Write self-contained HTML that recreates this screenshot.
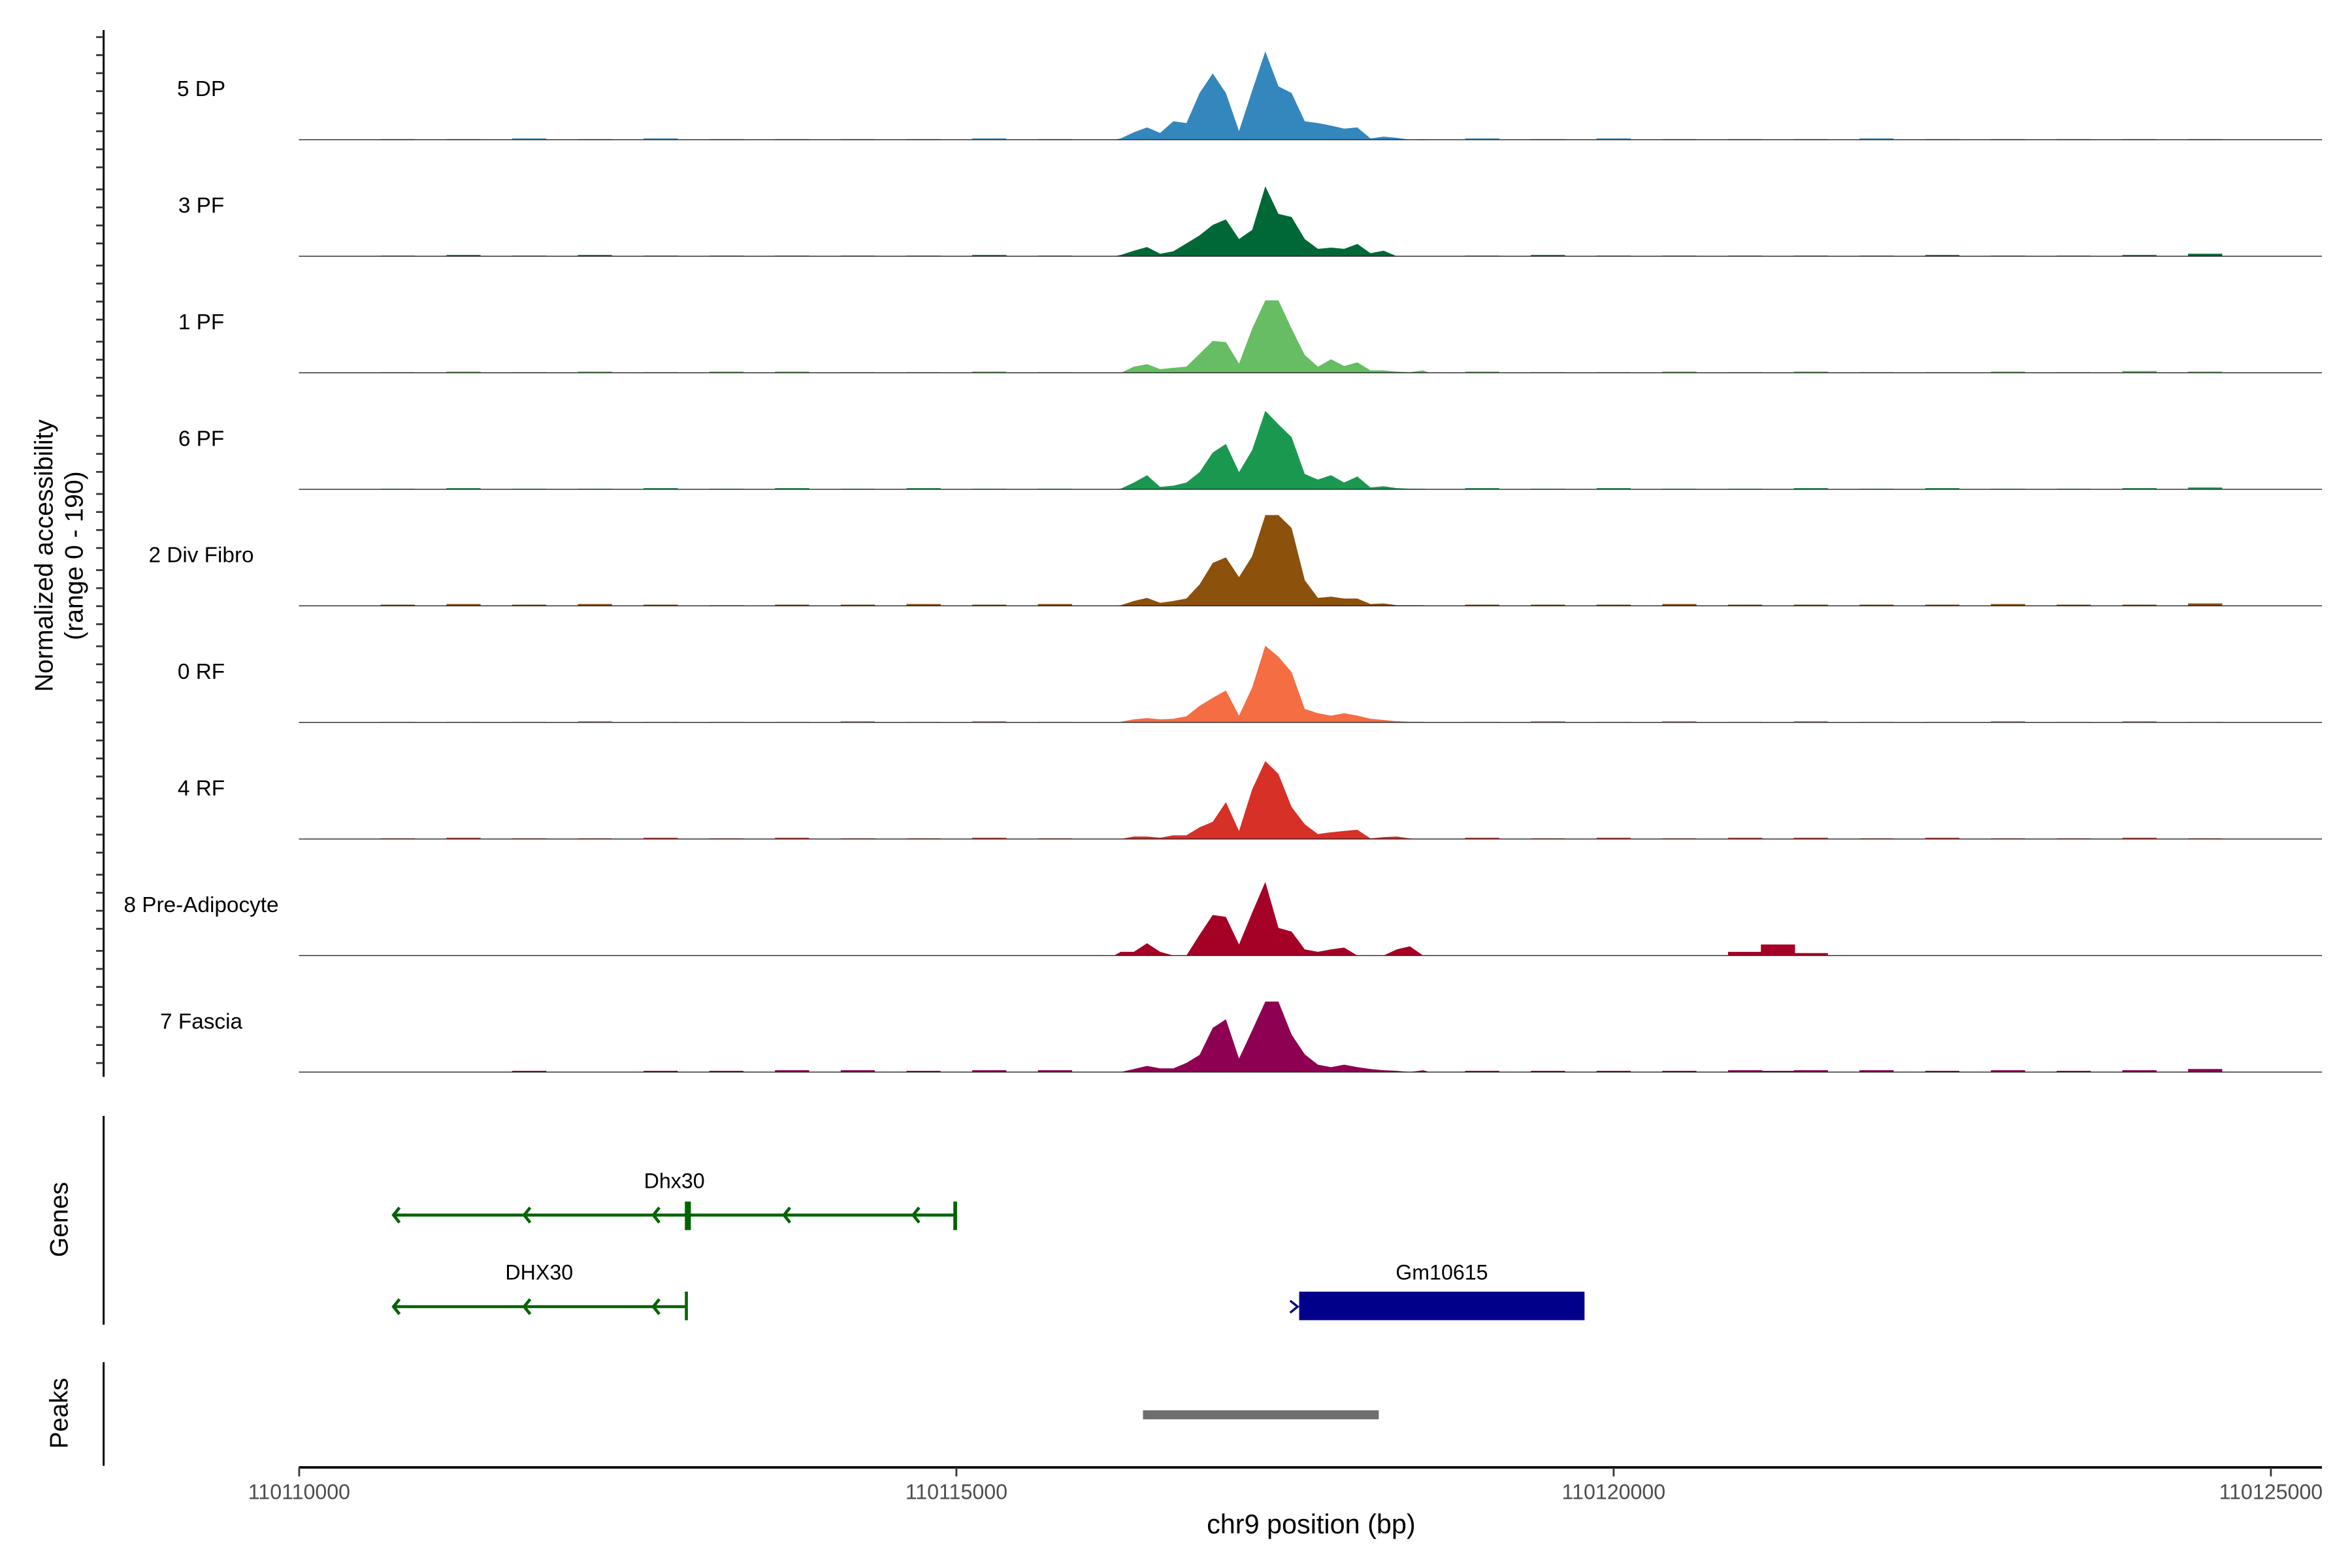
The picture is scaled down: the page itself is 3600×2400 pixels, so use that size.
<!DOCTYPE html>
<html><head><meta charset="utf-8"><style>
html,body{margin:0;padding:0;background:#fff;}
svg{display:block;font-family:"Liberation Sans",Arial,sans-serif;}
</style></head><body>
<svg id="chart" width="3600" height="2400" viewBox="0 0 1566 1044" preserveAspectRatio="none" xmlns="http://www.w3.org/2000/svg">
<g id="tracks"></g>
<g id="yaxis">
<line x1="69" y1="20" x2="69" y2="717" stroke="#000" stroke-width="1.3"/>
</g>
<text transform="translate(35,370) rotate(-90)" text-anchor="middle" font-size="17">Normalized accessibility</text>
<text transform="translate(55,370) rotate(-90)" text-anchor="middle" font-size="17">(range 0 - 190)</text>

<g>
<line x1="69" y1="743" x2="69" y2="882" stroke="#000" stroke-width="1.3"/>
<text transform="translate(45,812) rotate(-90)" text-anchor="middle" font-size="17">Genes</text>
<g stroke="#006400" fill="none" stroke-width="2">
<line x1="262" y1="809" x2="636" y2="809"/>
<line x1="458" y1="800" x2="458" y2="819" stroke-width="4"/>
<line x1="636" y1="800" x2="636" y2="819" stroke-width="2.5"/>
<path d="M266 804 L262 809 L266 814 M353 804 L349 809 L353 814 M439 804 L435 809 L439 814 M526 804 L522 809 L526 814 M612 804 L608 809 L612 814"/>
</g>
<text x="449" y="791" text-anchor="middle" font-size="14">Dhx30</text>
<g stroke="#006400" fill="none" stroke-width="2">
<line x1="262" y1="870" x2="457" y2="870"/>
<line x1="457" y1="860" x2="457" y2="879" stroke-width="2"/>
<path d="M266 865 L262 870 L266 875 M353 865 L349 870 L353 875 M439 865 L435 870 L439 875"/>
</g>
<text x="359" y="852" text-anchor="middle" font-size="14">DHX30</text>
<g>
<rect x="865" y="860" width="190" height="19" fill="#00008b"/>
<path d="M859 866 L864 870 L859 874" stroke="#00008b" stroke-width="1.5" fill="none"/>
</g>
<text x="960" y="852" text-anchor="middle" font-size="14">Gm10615</text>
</g>

<g>
<line x1="69" y1="907" x2="69" y2="976" stroke="#000" stroke-width="1.3"/>
<text transform="translate(45,941) rotate(-90)" text-anchor="middle" font-size="17">Peaks</text>
<rect x="761" y="939" width="157" height="6" fill="#6e6e6e"/>
</g>

<g id="xaxis">
<line x1="199" y1="977" x2="1546" y2="977" stroke="#000" stroke-width="1.6"/>
</g>
<text x="873" y="1021" text-anchor="middle" font-size="18">chr9 position (bp)</text>
</svg>
<script>
const trackNames = ["5 DP","3 PF","1 PF","6 PF","2 Div Fibro","0 RF","4 RF","8 Pre-Adipocyte","7 Fascia"];
const trackColors = ["#3487bd","#006837","#66bd63","#1a9850","#8c510a","#f46d43","#d73027","#a50026","#8e0152"];
const peakPos = [116250,116350,116450,116550,116650,116750,116850,116950,117050,117150,117250,117350,117450,117550,117650,117750,117850,117950,118050,118150,118250,118350,118450,118550];
const vals5DP = [2,12,20,11,30,27,76,108,76,14,80,144,87,76,30,27,23,18,20,2,5,3,0,1];
const vals3PF = [2,9,15,4,8,21,34,51,60,28,43,114,69,64,28,12,14,12,20,5,9,0,0,0];
const vals1PF = [0,10,14,6,8,10,31,52,50,15,72,118,118,72,29,10,22,11,17,4,4,2,1,4];
const vals6PF = [1,11,23,4,6,11,28,60,74,28,64,128,106,85,25,16,23,11,21,3,5,2,1,1];
const vals2Div = [1,8,13,5,8,12,35,70,79,47,81,148,148,127,42,13,15,12,12,3,4,1,1,1];
const vals0RF = [1,5,7,5,6,10,27,40,52,11,57,125,107,82,22,15,11,15,11,6,4,2,1,1];
const vals4RF = [0,4,4,2,6,6,19,28,60,13,81,127,106,52,24,8,11,13,15,1,3,4,1,0];
const vals8PA = [6,6,20,6,0,0,34,66,63,18,70,120,45,39,10,6,10,13,0,0,0,10,15,0];
const vals7Fas = [0,5,10,6,6,15,28,72,86,22,68,115,115,61,29,12,8,12,8,5,3,2,0,3];
const bgPos = [110750,111250,111750,112250,112750,113250,113750,114250,114750,115250,115750,119000,119500,120000,120500,121000,121250,121500,122000,122500,123000,123500,124000,124500];
const bg5DP = [1,1,2,1,2,1,1,1,1,2,1,2,1,2,1,1,0,1,2,1,1,1,1,1];
const bg3PF = [1,2,1,2,1,1,1,1,1,2,1,1,2,1,1,1,0,1,1,2,1,1,2,4];
const bg1PF = [1,2,1,2,1,2,2,1,1,2,1,2,1,1,2,1,0,2,1,1,2,1,3,2];
const bg6PF = [1,2,1,1,2,1,2,1,2,1,1,2,1,2,1,1,0,2,1,2,1,1,2,3];
const bg2Div = [2,3,2,3,2,1,2,2,3,2,3,2,2,2,3,2,0,2,2,2,3,2,2,4];
const bg0RF = [1,1,1,2,1,1,1,2,1,2,1,1,2,1,2,1,0,2,1,1,2,1,2,1];
const bg4RF = [1,2,1,1,2,1,2,1,1,2,1,2,1,2,1,2,0,2,1,2,1,1,2,1];
const bg8PA = [0,0,0,0,0,0,0,0,0,0,0,0,0,0,0,6,18,4,0,0,0,0,0,0];
const bg7Fas = [0,0,2,0,2,2,3,3,2,3,3,2,2,2,2,3,2,3,3,2,3,2,3,5];
const peakVals = [vals5DP,vals3PF,vals1PF,vals6PF,vals2Div,vals0RF,vals4RF,vals8PA,vals7Fas];
const bgVals = [bg5DP,bg3PF,bg1PF,bg6PF,bg2Div,bg0RF,bg4RF,bg8PA,bg7Fas];
const xTicks = [110110000,110115000,110120000,110125000];
const xTickLabels = ["110110000","110115000","110120000","110125000"];
const yMax = 190;

const NS = "http://www.w3.org/2000/svg";
const X0 = 110110000;
function xScale(bp){ const b = bp < 1e8 ? bp + 110000000 : bp; return 199.2 + (b - X0) * 1312.8 / 15000; }
const trackH = 77.6;
function baseY(i){ return 93 + i * trackH; }
function yScale(i, v){ return baseY(i) - v / yMax * trackH; }
function mk(tag, attrs){ const e = document.createElementNS(NS, tag); for (const k in attrs) e.setAttribute(k, attrs[k]); return e; }

const tracks = document.getElementById('tracks');
trackNames.forEach((name, i) => {
  const g = mk('g', {});
  
  
  const col = trackColors[i];
  bgVals[i].forEach((v, j) => {
    if (v <= 0) return;
    const x1 = xScale(bgPos[j] - 130), x2 = xScale(bgPos[j] + 130);
    const r = mk('rect', {x: x1, y: yScale(i, v), width: x2 - x1, height: baseY(i) - yScale(i, v), fill: col});
    
    
    g.appendChild(r);
  });
  const vals = peakVals[i];
  let d = 'M' + xScale(peakPos[0] - 50) + ' ' + baseY(i);
  vals.forEach((v, j) => { d += ' L' + xScale(peakPos[j]).toFixed(2) + ' ' + yScale(i, v).toFixed(2); });
  d += ' L' + xScale(peakPos[peakPos.length - 1] + 50) + ' ' + baseY(i) + ' Z';
  const p = mk('path', {d: d, fill: col});
  
  
  g.appendChild(p);
  const bl = mk('line', {x1: 199, x2: 1546, y1: baseY(i), y2: baseY(i), stroke: '#222', 'stroke-width': 0.6});
  
  
  g.appendChild(bl);
  const t = mk('text', {x: 134, y: baseY(i) - 29, 'text-anchor': 'middle', 'font-size': 14.5});
  
  
  t.textContent = name;
  g.appendChild(t);
  tracks.appendChild(g);
});

const yaxis = document.getElementById('yaxis');
for (let y0 = 24.7; y0 < 716; y0 += 50.7) {
  [0, 12, 24, 36].forEach(o => {
    const y = y0 + o; if (y > 716) return;
    const l = mk('line', {x1: 64, x2: 69, y1: y, y2: y, stroke: '#333', 'stroke-width': 1.2});
    
    
    yaxis.appendChild(l);
  });
}

const xaxis = document.getElementById('xaxis');
xTicks.forEach((v, k) => {
  const x = xScale(v);
  const l = mk('line', {x1: x, x2: x, y1: 977, y2: 983, stroke: '#333', 'stroke-width': 1.2});
  
  
  xaxis.appendChild(l);
  const t = mk('text', {x: x, y: 998, 'text-anchor': 'middle', 'font-size': 14, fill: '#4d4d4d'});
  
  
  t.textContent = xTickLabels[k];
  xaxis.appendChild(t);
});
</script>
</body></html>
